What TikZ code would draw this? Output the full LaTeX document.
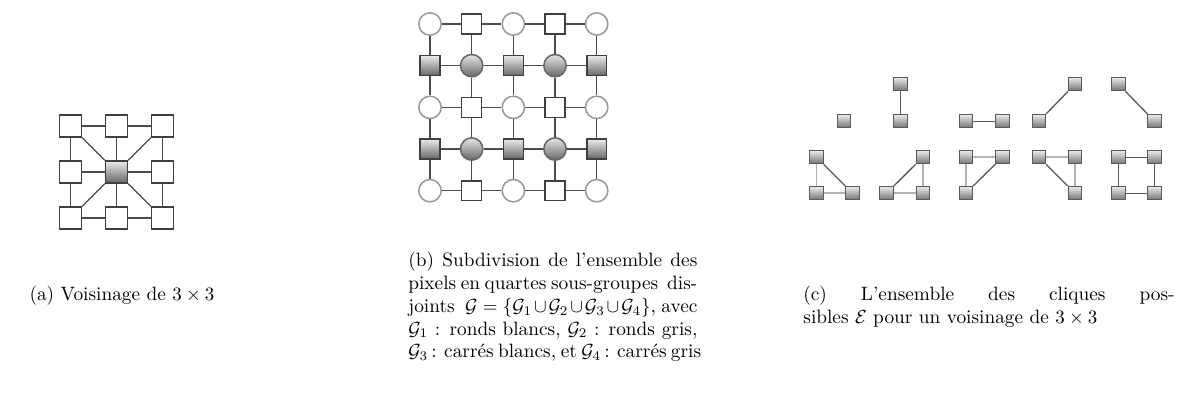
\documentclass[tikz,border=0pt]{standalone}
\usepackage{amsmath,amssymb}
\usepackage{xcolor}
\usepackage{tikz}
\usetikzlibrary{positioning}

\begin{document}
\begin{tikzpicture}[x=0.528pt, y=-0.528pt,
  edge/.style={draw=black!70, line width=0.7pt},
  wsq/.style={rectangle, draw=black!75, fill=white, line width=0.8pt, inner sep=0pt, minimum size=11.5pt},
  gsq/.style={rectangle, draw=black!75, top color=black!8, bottom color=black!60, line width=0.8pt, inner sep=0pt, minimum size=11.5pt},
  wcirc/.style={circle, draw=black!40, fill=white, line width=0.8pt, inner sep=0pt, minimum size=11.8pt},
  gcirc/.style={circle, draw=black!60, top color=black!10, bottom color=black!60, line width=0.8pt, inner sep=0pt, minimum size=11.8pt},
  kind0/.style={wcirc}, kind1/.style={wsq, minimum size=10.5pt},
  kind2/.style={gcirc}, kind3/.style={gsq, minimum size=10.5pt},
  clq/.style={rectangle, draw=black!65, top color=black!8, bottom color=black!55, line width=0.6pt, inner sep=0pt, minimum size=7pt},
  light/.style={draw=black!30, line width=0.8pt},
  dark/.style={draw=black!65, line width=0.7pt},
  caption/.style={inner sep=0pt, align=left, font=\fontsize{10.2}{12}\selectfont}]
\useasboundingbox (0,0) rectangle (1180,396);

% (a) voisinage 3x3
\foreach \i/\j in {0/0,1/0,2/0,0/1,2/1,0/2,1/2,2/2}
  \node[wsq] (a\i\j) at ({70.5+46*\i},{126+46*\j}) {};
\node[gsq] (a11) at (116.5,172) {};
\foreach \r in {0,1,2} {
  \draw[edge] (a0\r) -- (a1\r) -- (a2\r);
  \draw[edge] (a\r0) -- (a\r1) -- (a\r2);
}
\foreach \c in {00,20,02,22}
  \draw[edge] (a11) -- (a\c);

% (b) sous-groupes
\foreach \i in {0,...,4}
  \foreach \j in {0,...,4} {
    \pgfmathtruncatemacro\kind{mod(\i+\j,2)+2*mod(\j,2)}
    \node[kind\kind] (b\i\j) at ({430+41.67*\i},{24+41.67*\j}) {};
  }
\foreach \r in {0,...,4} {
  \draw[edge] (b0\r) -- (b1\r) -- (b2\r) -- (b3\r) -- (b4\r);
  \draw[edge] (b\r0) -- (b\r1) -- (b\r2) -- (b\r3) -- (b\r4);
}

% (c) cliques
\node[clq] (c1) at (843.8,121.2) {};

\node[clq] (c2t) at (900.5,84.2) {};
\node[clq] (c2b) at (900.5,121.2) {};
\draw[dark] (c2t) -- (c2b);

\node[clq] (c3l) at (965.8,121.2) {};
\node[clq] (c3r) at (1002.5,121.2) {};
\draw[dark] (c3l) -- (c3r);

\node[clq] (c4b) at (1039,121.2) {};
\node[clq] (c4t) at (1075,84.2) {};
\draw[dark] (c4b) -- (c4t);

\node[clq] (c5t) at (1118.5,84.2) {};
\node[clq] (c5b) at (1154.5,121.2) {};
\draw[dark] (c5t) -- (c5b);

\node[clq] (c6tl) at (816.5,157.2) {};
\node[clq] (c6bl) at (816.5,193.2) {};
\node[clq] (c6br) at (852.5,193.2) {};
\draw[light] (c6tl) -- (c6bl) -- (c6br);
\draw[dark] (c6tl) -- (c6br);

\node[clq] (c7tr) at (922.8,157.2) {};
\node[clq] (c7bl) at (886.5,193.2) {};
\node[clq] (c7br) at (922.8,193.2) {};
\draw[light] (c7tr) -- (c7br) -- (c7bl);
\draw[dark] (c7bl) -- (c7tr);

\node[clq] (c8tl) at (965.8,157.2) {};
\node[clq] (c8tr) at (1002.5,157.2) {};
\node[clq] (c8bl) at (965.8,193.2) {};
\draw[light] (c8tr) -- (c8tl) -- (c8bl);
\draw[dark] (c8bl) -- (c8tr);

\node[clq] (c9tl) at (1039,157.2) {};
\node[clq] (c9tr) at (1075,157.2) {};
\node[clq] (c9br) at (1075,193.2) {};
\draw[light] (c9tl) -- (c9tr) -- (c9br);
\draw[dark] (c9tl) -- (c9br);

\node[clq] (c10tl) at (1118.5,157.2) {};
\node[clq] (c10tr) at (1154.5,157.2) {};
\node[clq] (c10bl) at (1118.5,193.2) {};
\node[clq] (c10br) at (1154.5,193.2) {};
\draw[dark] (c10tl) -- (c10tr) -- (c10br) -- (c10bl) -- (c10tl);

% legendes
\node[caption, anchor=base] (capa) at (122,300) {(a) Voisinage de $3\times3$};
\node[caption, anchor=north west] (capb) at (408,252)
  {\makebox[152.6pt][s]{(b) Subdivision de l'ensemble des}\\
   \makebox[152.6pt][s]{pixels en quartes sous-groupes \ dis-}\\
   \makebox[152.6pt][s]{joints \ $\mathcal{G}=\{\mathcal{G}_1\cup\mathcal{G}_2\cup\mathcal{G}_3\cup\mathcal{G}_4\}$, avec}\\
   \makebox[152.6pt][s]{$\mathcal{G}_1$ : ronds blancs, $\mathcal{G}_2$ : ronds gris,}\\
   \makebox[152.6pt][s]{$\mathcal{G}_3$\,: carrés blancs, et $\mathcal{G}_4$\,: carrés gris}};
\node[caption, anchor=north west] (capc) at (803,286)
  {\makebox[196pt][s]{(c) L'ensemble des cliques pos-}\\
   sibles $\mathcal{E}$ pour un voisinage de $3\times3$};
\end{tikzpicture}
\end{document}
